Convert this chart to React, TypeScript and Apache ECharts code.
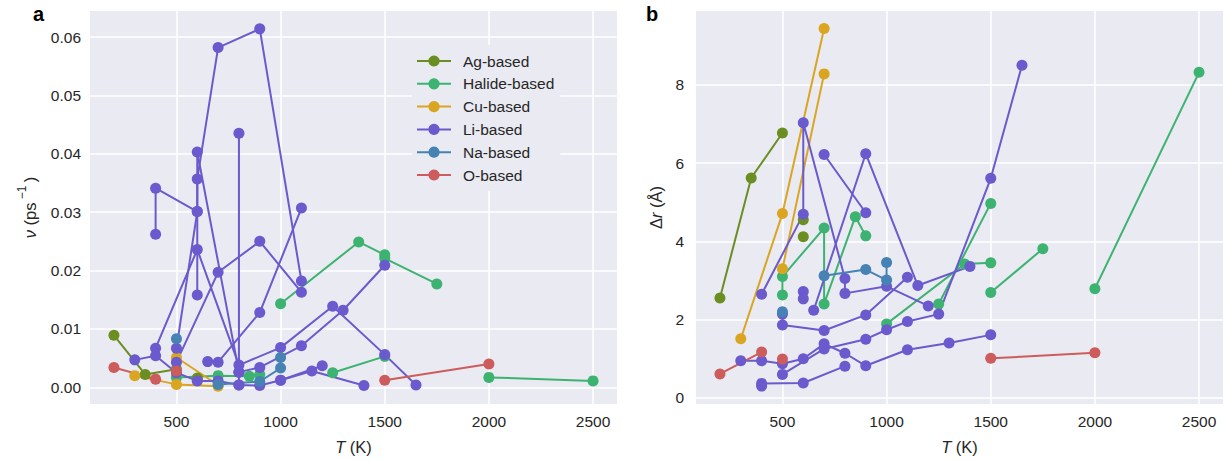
import React, { useEffect, useRef } from "react";
import * as echarts from "echarts";

type Pt = [number, number];

const classNames = ["Ag-based", "Halide-based", "Cu-based", "Li-based", "Na-based", "O-based"];
const classColors = ["#6b8e23", "#3cb371", "#daa520", "#6a5acd", "#4682b4", "#cd5c5c"];

const xTicks = [500, 1000, 1500, 2000, 2500];
const nuTicks = [0, 0.01, 0.02, 0.03, 0.04, 0.05, 0.06];
const drTicks = [0, 2, 4, 6, 8];

// panel a: nu (ps^-1) vs T (K)
const agNu: Pt[][] = [
  [[200, 0.0089], [350, 0.0022], [500, 0.0031]],
  [[600, 0.0016]],
  [[600, 0.0013]],
];
const halideNu: Pt[][] = [
  [[1000, 0.0143], [1375, 0.0249], [1500, 0.0227]],
  [[1500, 0.0221], [1750, 0.0177]],
  [[1250, 0.0025], [1500, 0.0053]],
  [[2000, 0.0017], [2500, 0.0011]],
  [[500, 0.0017], [700, 0.002], [850, 0.0019], [900, 0.0022]],
];
const cuNu: Pt[][] = [
  [[300, 0.002], [500, 0.0005], [700, 0.0002]],
  [[500, 0.0051], [700, 0.0004]],
];
const liNu: Pt[][] = [
  [[400, 0.0262], [400, 0.0341], [600, 0.0301], [600, 0.0357], [700, 0.0582], [900, 0.0614], [1100, 0.0182]],
  [[800, 0.0026], [600, 0.0403], [600, 0.0158]],
  [[400, 0.0067], [600, 0.0236], [800, 0.0038], [1000, 0.0068], [1250, 0.0139], [1500, 0.0056], [1650, 0.0004]],
  [[500, 0.0067], [600, 0.0301]],
  [[500, 0.0043], [700, 0.0197], [900, 0.025], [1100, 0.0163]],
  [[650, 0.0044], [700, 0.0043], [900, 0.0128], [1100, 0.0307]],
  [[800, 0.0435], [800, 0.0004]],
  [[300, 0.0047], [400, 0.0054], [500, 0.0025], [600, 0.0011], [700, 0.0011], [800, 0.0004], [900, 0.0003], [1000, 0.0012], [1150, 0.0028], [1400, 0.0003]],
  [[800, 0.0026], [900, 0.0034], [1100, 0.0071], [1300, 0.0132], [1500, 0.0209]],
  [[1000, 0.0012], [1200, 0.0037]],
];
const naNu: Pt[][] = [
  [[500, 0.0083]],
  [[700, 0.0005], [900, 0.001], [1000, 0.0033], [1000, 0.0051]],
];
const oNu: Pt[][] = [
  [[200, 0.0034], [400, 0.0014]],
  [[500, 0.0028]],
  [[1500, 0.0012], [2000, 0.004]],
];

// panel b: delta r (Å) vs T (K)
const agDr: Pt[][] = [
  [[200, 2.55], [350, 5.62], [500, 6.77]],
  [[600, 4.55]],
  [[600, 4.12]],
];
const halideDr: Pt[][] = [
  [[1000, 1.89], [1375, 3.42], [1500, 3.45]],
  [[1500, 2.69], [1750, 3.81]],
  [[1250, 2.4], [1500, 4.97]],
  [[2000, 2.79], [2500, 8.32]],
  [[500, 2.63], [500, 3.1], [700, 4.34], [700, 2.4], [850, 4.63], [900, 4.14]],
];
const cuDr: Pt[][] = [
  [[300, 1.51], [500, 4.71], [700, 9.44]],
  [[500, 3.3], [700, 8.28]],
];
const liDr: Pt[][] = [
  [[400, 2.65], [600, 4.69], [600, 7.03], [800, 3.05], [800, 2.67], [1000, 2.85], [1200, 2.35]],
  [[650, 2.24], [900, 6.24], [1150, 2.87], [1400, 3.36]],
  [[700, 6.22], [900, 4.73]],
  [[500, 2.14], [500, 1.86], [700, 1.72], [900, 2.12], [1100, 3.08]],
  [[300, 0.95], [400, 0.95], [500, 0.87], [600, 1.0], [700, 1.38], [800, 1.14], [900, 0.82], [1100, 1.23], [1300, 1.4], [1500, 1.61]],
  [[400, 0.3], [400, 0.37], [600, 0.38], [800, 0.81]],
  [[500, 0.6], [700, 1.25], [900, 1.5], [1000, 1.74], [1100, 1.95], [1250, 2.14], [1500, 5.61], [1650, 8.5]],
  [[600, 2.72], [600, 2.53]],
];
const naDr: Pt[][] = [
  [[500, 2.2]],
  [[700, 3.12], [900, 3.28], [1000, 3.01], [1000, 3.46]],
];
const oDr: Pt[][] = [
  [[200, 0.61], [400, 1.17]],
  [[500, 0.99]],
  [[1500, 1.01], [2000, 1.15]],
];

const nuLines = [agNu, halideNu, cuNu, liNu, naNu, oNu];
const drLines = [agDr, halideDr, cuDr, liDr, naDr, oDr];

const FONT = "'Liberation Sans', Arial, sans-serif";
const TXT = "#262626";
const BG = "#eaeaf2";
const TICK_FS = 15.5;
const NAME_FS = 16.5;

function buildSeries() {
  const series: any[] = [];
  classNames.forEach((name, gi) => {
    const color = classColors[gi];
    const add = (lines: Pt[][], idx: number) => {
      lines.forEach((line) => {
        series.push({
          type: "line",
          name,
          xAxisIndex: idx,
          yAxisIndex: idx,
          data: line,
          color,
          symbol: "circle",
          symbolSize: 11,
          showSymbol: true,
          lineStyle: { width: 2, color },
          itemStyle: { color },
          emphasis: { disabled: true },
          silent: true,
        });
      });
    };
    add(nuLines[gi], 0);
    add(drLines[gi], 1);
  });
  return series;
}

const italicRich = {
  i: { fontStyle: "italic", fontSize: NAME_FS, fontFamily: FONT, color: TXT },
  sup: { fontSize: 12, fontFamily: FONT, color: TXT, verticalAlign: "top", lineHeight: 28 },
};

function xAxis(gridIndex: number) {
  return {
    type: "value",
    gridIndex,
    min: 85,
    max: 2615,
    minInterval: xTicks[1] - xTicks[0],
    maxInterval: xTicks[1] - xTicks[0],
    axisLine: { show: false },
    axisTick: { show: false },
    splitLine: { show: true, showMinLine: false, showMaxLine: false, lineStyle: { color: "#ffffff", width: 1.5 } },
    axisLabel: {
      showMinLabel: false,
      showMaxLabel: false,
      color: TXT,
      fontSize: TICK_FS,
      fontFamily: FONT,
      margin: 9,
      formatter: (v: number) => (xTicks.includes(v) ? String(v) : ""),
    },
    name: "{i|T} (K)",
    nameLocation: "middle",
    nameGap: 34,
    nameTextStyle: { color: TXT, fontSize: NAME_FS, fontFamily: FONT, rich: italicRich },
  };
}

export default function App() {
  const ref = useRef<HTMLDivElement>(null);
  useEffect(() => {
    if (!ref.current) return;
    const chart = echarts.init(ref.current, undefined, { renderer: "svg" });
    const option: any = {
      animation: false,
      textStyle: { fontFamily: FONT },
      grid: [
        { left: 90, top: 11, width: 527, height: 394, show: true, backgroundColor: BG, borderWidth: 0 },
        { left: 696, top: 11, width: 527, height: 394, show: true, backgroundColor: BG, borderWidth: 0 },
      ],
      xAxis: [xAxis(0), xAxis(1)],
      yAxis: [
        {
          type: "value",
          gridIndex: 0,
          min: -0.00286,
          max: 0.06446,
          minInterval: nuTicks[1] - nuTicks[0],
          maxInterval: nuTicks[1] - nuTicks[0],
          axisLine: { show: false },
          axisTick: { show: false },
          splitLine: { show: true, showMinLine: false, showMaxLine: false, lineStyle: { color: "#ffffff", width: 1.5 } },
          axisLabel: {
            showMinLabel: false,
            showMaxLabel: false,
            color: TXT,
            fontSize: TICK_FS,
            fontFamily: FONT,
            margin: 9,
            formatter: (v: number) => {
              const t = nuTicks.find((k) => Math.abs(k - v) < 1e-9);
              return t === undefined ? "" : t.toFixed(2);
            },
          },
          name: "{i|ν} (ps{sup| −1 })",
          nameLocation: "middle",
          nameGap: 46,
          nameTextStyle: { color: TXT, fontSize: NAME_FS, fontFamily: FONT, rich: italicRich },
        },
        {
          type: "value",
          gridIndex: 1,
          min: -0.157,
          max: 9.887,
          minInterval: drTicks[1] - drTicks[0],
          maxInterval: drTicks[1] - drTicks[0],
          axisLine: { show: false },
          axisTick: { show: false },
          splitLine: { show: true, showMinLine: false, showMaxLine: false, lineStyle: { color: "#ffffff", width: 1.5 } },
          axisLabel: {
            showMinLabel: false,
            showMaxLabel: false,
            color: TXT,
            fontSize: TICK_FS,
            fontFamily: FONT,
            margin: 12,
            formatter: (v: number) => (drTicks.includes(v) ? String(v) : ""),
          },
          name: "Δ{i|r} (Å)",
          nameLocation: "middle",
          nameGap: 32,
          nameTextStyle: { color: TXT, fontSize: NAME_FS, fontFamily: FONT, rich: italicRich },
        },
      ],
      legend: {
        data: classNames,
        orient: "vertical",
        left: 412,
        top: 45,
        itemWidth: 34,
        itemHeight: 14,
        itemGap: 6.8,
        padding: [8, 6, 8, 4],
        backgroundColor: BG,
        selectedMode: false,
        textStyle: { color: TXT, fontSize: TICK_FS, fontFamily: FONT, padding: [0, 0, 0, 7] },
      },
      graphic: [
        { type: "text", left: 33, top: 4, style: { text: "a", fontSize: 20, fontWeight: "bold", fill: "#000", fontFamily: FONT } },
        { type: "text", left: 646, top: 4, style: { text: "b", fontSize: 20, fontWeight: "bold", fill: "#000", fontFamily: FONT } },
      ],
      series: buildSeries(),
    };
    chart.setOption(option);
    return () => chart.dispose();
  }, []);
  return (
    <div
      ref={ref}
      style={{ position: "fixed", left: 0, top: 0, width: 1224, height: 460, background: "#fff" }}
    />
  );
}
